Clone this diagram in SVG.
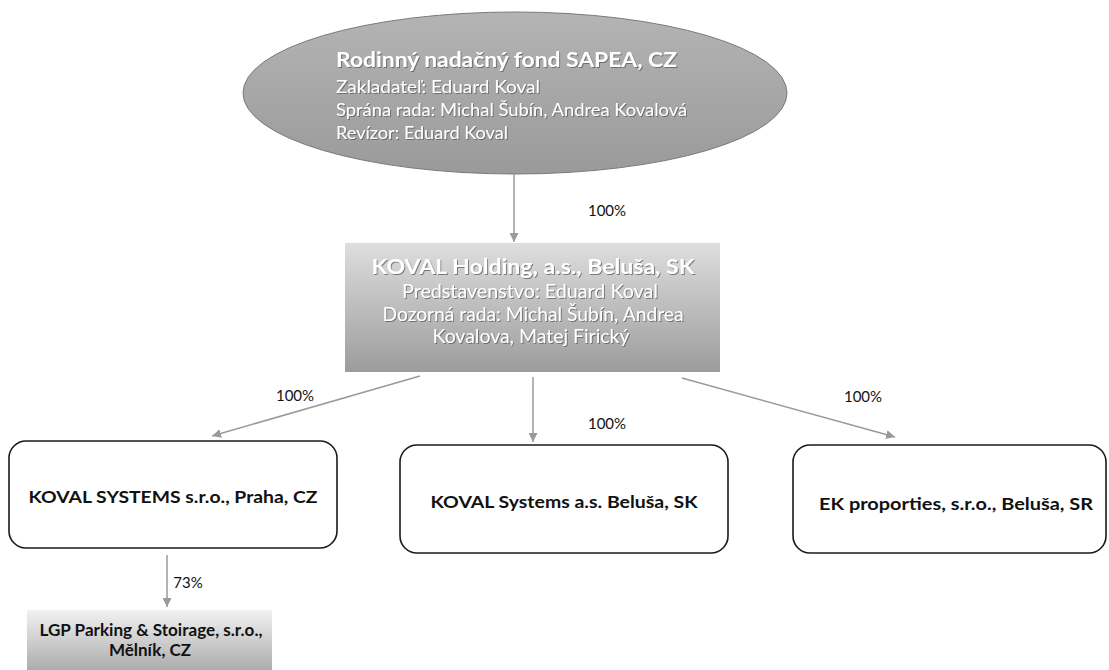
<svg xmlns="http://www.w3.org/2000/svg" width="1109" height="670" viewBox="0 0 1109 670">
  <defs>
    <linearGradient id="gEll" x1="0" y1="0" x2="0" y2="1">
      <stop offset="0" stop-color="#b4b4b4"/>
      <stop offset="1" stop-color="#9a9a9a"/>
    </linearGradient>
    <linearGradient id="gHold" x1="0" y1="0" x2="0" y2="1">
      <stop offset="0" stop-color="#dedede"/>
      <stop offset="1" stop-color="#9c9c9c"/>
    </linearGradient>
    <linearGradient id="gLgp" x1="0" y1="0" x2="0" y2="1">
      <stop offset="0" stop-color="#f2f2f2"/>
      <stop offset="1" stop-color="#acacac"/>
    </linearGradient>
    <filter id="shadow" x="-5%" y="-20%" width="110%" height="140%">
      <feDropShadow dx="1" dy="1" stdDeviation="0.6" flood-color="#555" flood-opacity="0.7"/>
    </filter>
    <marker id="arr" viewBox="0 0 10 10" refX="10" refY="5" markerWidth="9" markerHeight="9" markerUnits="userSpaceOnUse" orient="auto">
      <path d="M0,0 L10,5 L0,10 z" fill="#9a9a9a"/>
    </marker>
  </defs>
  <style>
    .w { font-family: Lato, "Open Sans", "Liberation Sans", sans-serif; fill: #ffffff; }
    .wt { font-weight: bold; }
    .b { font-family: Lato, "Open Sans", "Liberation Sans", sans-serif; font-weight: bold; fill: #111111; font-size: 17px; }
    .lbl { font-family: Lato, "Open Sans", "Liberation Sans", sans-serif; fill: #111111; font-size: 15px; }
    .box { fill: #ffffff; stroke: #1a1a1a; stroke-width: 1.6; }
    .con { stroke: #9a9a9a; stroke-width: 1.5; fill: none; marker-end: url(#arr); }
  </style>
  <rect width="1109" height="670" fill="#ffffff"/>

  <g id="sapea">
    <ellipse cx="515" cy="93" rx="272" ry="81" fill="url(#gEll)" stroke="#7a7a7a" stroke-width="1"/>
    <g class="w" filter="url(#shadow)">
      <text class="wt" x="336" y="67" font-size="21" textLength="341" lengthAdjust="spacingAndGlyphs">Rodinný nadačný fond SAPEA, CZ</text>
      <text x="336" y="93" font-size="18" textLength="204" lengthAdjust="spacingAndGlyphs">Zakladateľ:  Eduard Koval</text>
      <text x="336" y="116" font-size="18" textLength="351" lengthAdjust="spacingAndGlyphs">Sprána rada: Michal Šubín, Andrea Kovalová</text>
      <text x="336" y="139" font-size="18" textLength="172" lengthAdjust="spacingAndGlyphs">Revízor: Eduard Koval</text>
    </g>
  </g>

  <g id="holding">
    <rect x="345" y="243" width="375" height="129" fill="url(#gHold)"/>
    <g class="w" filter="url(#shadow)" text-anchor="middle">
      <text class="wt" x="533" y="274" font-size="20" textLength="323" lengthAdjust="spacingAndGlyphs">KOVAL Holding, a.s., Beluša, SK</text>
      <text x="530" y="298" font-size="19" textLength="256" lengthAdjust="spacingAndGlyphs">Predstavenstvo: Eduard Koval</text>
      <text x="533" y="321" font-size="19" textLength="301" lengthAdjust="spacingAndGlyphs">Dozorná rada: Michal Šubín, Andrea</text>
      <text x="531" y="343" font-size="19" textLength="197" lengthAdjust="spacingAndGlyphs">Kovalova, Matej Firický</text>
    </g>
  </g>

  <g id="systems-praha">
    <rect class="box" x="9" y="441" width="328" height="107" rx="17" ry="17"/>
    <text class="b" x="173" y="503" text-anchor="middle" textLength="289" lengthAdjust="spacingAndGlyphs">KOVAL SYSTEMS s.r.o., Praha, CZ</text>
  </g>

  <g id="systems-belusa">
    <rect class="box" x="400" y="445" width="328" height="108" rx="17" ry="17"/>
    <text class="b" x="564" y="508" text-anchor="middle" textLength="267" lengthAdjust="spacingAndGlyphs">KOVAL Systems a.s.  Beluša, SK</text>
  </g>

  <g id="ek-proporties">
    <rect class="box" x="793" y="445" width="313" height="108" rx="17" ry="17"/>
    <text class="b" x="956" y="510" text-anchor="middle" textLength="274" lengthAdjust="spacingAndGlyphs">EK proporties, s.r.o., Beluša, SR</text>
  </g>

  <g id="lgp">
    <rect x="27" y="610" width="245" height="60" fill="url(#gLgp)"/>
    <text class="b" x="151" y="636" text-anchor="middle" textLength="223" lengthAdjust="spacingAndGlyphs">LGP Parking &amp; Stoirage, s.r.o.,</text>
    <text class="b" x="150" y="656" text-anchor="middle">Mělník, CZ</text>
  </g>

  <g id="connectors">
    <line class="con" x1="514" y1="174" x2="514" y2="242"/>
    <line class="con" x1="420" y1="376" x2="212" y2="436"/>
    <line class="con" x1="533" y1="377" x2="533" y2="442"/>
    <line class="con" x1="682" y1="378" x2="895" y2="437"/>
    <line class="con" x1="167" y1="555" x2="167" y2="607"/>
    <text class="lbl" x="607" y="216" text-anchor="middle">100%</text>
    <text class="lbl" x="295" y="401" text-anchor="middle">100%</text>
    <text class="lbl" x="607" y="429" text-anchor="middle">100%</text>
    <text class="lbl" x="863" y="402" text-anchor="middle">100%</text>
    <text class="lbl" x="188" y="588" text-anchor="middle">73%</text>
  </g>
</svg>
